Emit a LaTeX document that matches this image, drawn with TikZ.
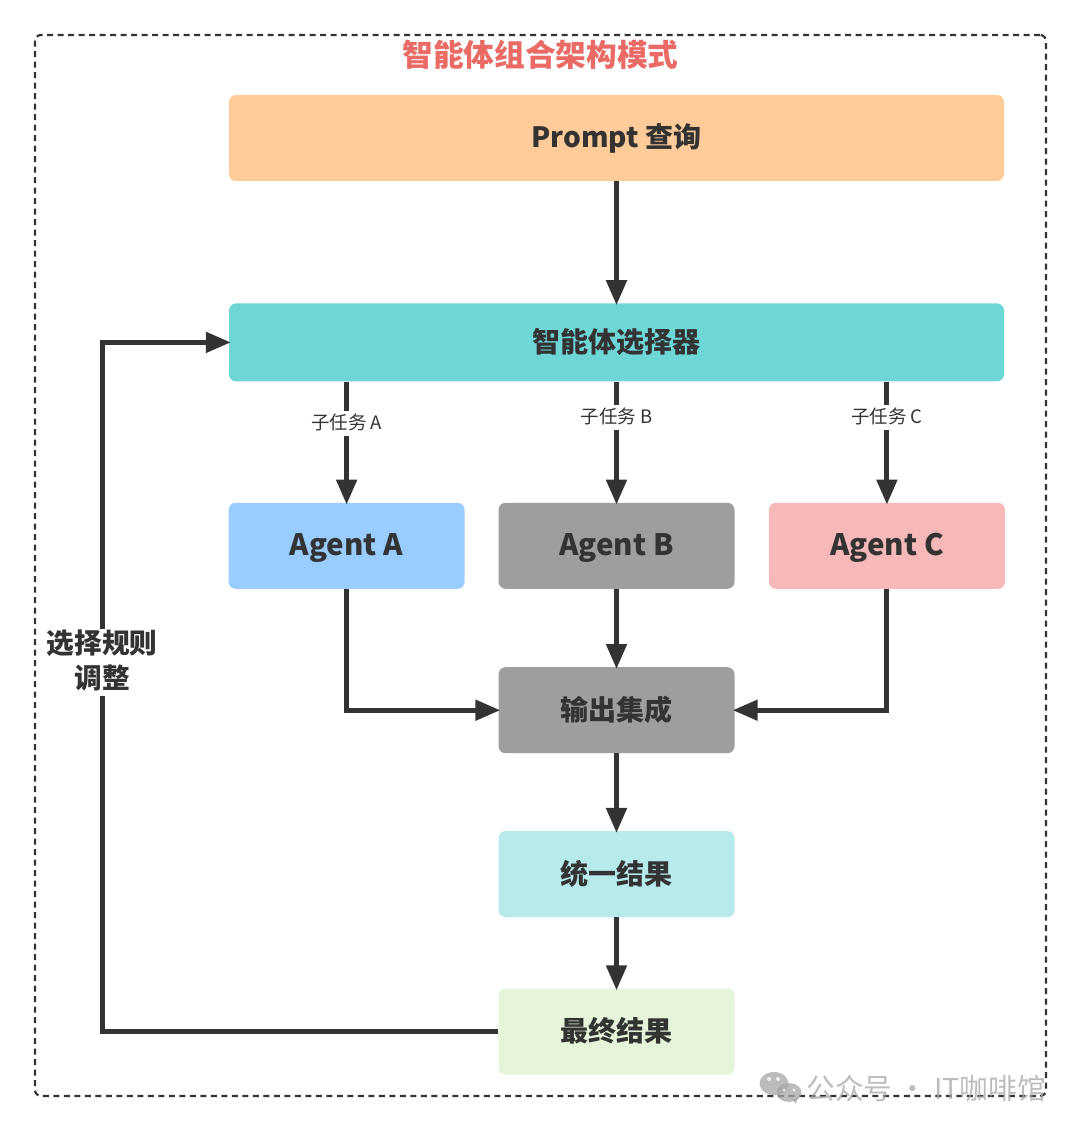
\documentclass[tikz,border=0pt]{standalone}
\usepackage{fontspec}
\setmainfont{Noto Sans CJK SC}
\usetikzlibrary{arrows.meta,positioning}

\definecolor{inkgray}{HTML}{333333}
\definecolor{titlered}{HTML}{EA6B66}
\definecolor{promptfill}{HTML}{FFCC99}
\definecolor{selectfill}{HTML}{6FD6D8}
\definecolor{agentafill}{HTML}{99CCFF}
\definecolor{grayfill}{HTML}{9E9E9E}
\definecolor{agentcfill}{HTML}{F6B8B8}
\definecolor{unifiedfill}{HTML}{B7EBEB}
\definecolor{finalfill}{HTML}{E6F5DA}

\begin{document}
\begin{tikzpicture}[
    x=1pt,y=1pt,
    box/.style={rounded corners=7pt,minimum width=236pt,minimum height=86pt,align=center,
        text=inkgray,font=\fontsize{28}{34}\selectfont\bfseries,inner sep=0pt,
        text height=24pt,text depth=4pt},
    widebox/.style={box,minimum width=775pt},
    agentbox/.style={box,font=\fontsize{29.5}{34}\selectfont\bfseries},
    arrow/.style={draw=inkgray,line width=5pt,shorten >=-2pt,-{Triangle[length=25pt,width=20pt]}},
    edgelabel/.style={fill=white,text=inkgray,font=\fontsize{18.5}{20}\selectfont,
        inner xsep=1pt,inner ysep=2.5pt,text height=16pt,text depth=4pt}
]
    \useasboundingbox (0,0) rectangle (1080,-1131);

    \node[draw=inkgray,line width=2.2pt,dash pattern=on 6pt off 4.5pt,rounded corners=6pt,
        minimum width=1011pt,minimum height=1061pt,inner sep=0pt] (frame) at (540.5,-565.5) {};
    \node[text=titlered,font=\fontsize{30.7}{36}\selectfont\bfseries,inner sep=0pt] (title) at (540.5,-55) {智能体组合架构模式};

    \node[widebox,fill=promptfill] (prompt) at (616.5,-138) {Prompt 查询};
    \node[widebox,fill=selectfill,minimum height=78pt,below=122pt of prompt] (selector) {智能体选择器};

    \node[agentbox,fill=grayfill,below=121pt of selector] (agentb) {Agent B};
    \node[agentbox,fill=agentafill,left=33.5pt of agentb] (agenta) {Agent A};
    \node[agentbox,fill=agentcfill,right=34pt of agentb] (agentc) {Agent C};

    \node[box,fill=grayfill,below=78pt of agentb] (merge) {输出集成};
    \node[box,fill=unifiedfill,below=77.5pt of merge] (unified) {统一结果};
    \node[box,fill=finalfill,below=71pt of unified] (final) {最终结果};

    \node[text=inkgray,font=\fontsize{27.7}{35}\selectfont\bfseries,align=center,inner sep=0pt] (rule) at (102,-660) {选择规则\\调整};

    \draw[arrow] (prompt) -- (selector);
    \draw[arrow] (selector.south -| agenta) -- node[edgelabel,pos=0.345] (taska) {子任务 A} (agenta);
    \draw[arrow] (selector) -- node[edgelabel,pos=0.3] (taskb) {子任务 B} (agentb);
    \draw[arrow] (selector.south -| agentc) -- node[edgelabel,pos=0.3] (taskc) {子任务 C} (agentc);
    \draw[arrow] (agentb) -- (merge);
    \draw[arrow] (agenta) |- (merge);
    \draw[arrow] (agentc) |- (merge);
    \draw[arrow] (merge) -- (unified);
    \draw[arrow] (unified) -- (final);
    \draw[draw=inkgray,line width=5pt,shorten >=5pt] (final) -| (rule.south);
    \draw[arrow] (rule.north) |- (selector);

    % watermark
    \begin{scope}[opacity=0.75]
        \fill[gray!70] (774,-1083.5) ellipse [x radius=14.5pt,y radius=11.5pt];
        \fill[gray!70] (789,-1092.5) ellipse [x radius=12.5pt,y radius=9.5pt];
        \fill[gray!70] (793,-1100) -- (796,-1104) -- (798,-1097) -- cycle;
        \fill[white] (769,-1079) circle [radius=2pt] (778,-1079) circle [radius=2pt];
        \fill[white] (784,-1090) circle [radius=1.7pt] (794,-1090) circle [radius=1.7pt];
    \end{scope}
    \node[text=gray!70,opacity=0.75,font=\fontsize{28.7}{32}\selectfont,inner sep=0pt,anchor=east] (mark) at (1046,-1089) {公众号 · IT咖啡馆};
\end{tikzpicture}
\end{document}
